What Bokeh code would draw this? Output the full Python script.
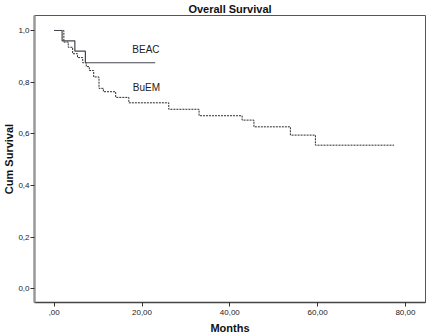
import math
from bokeh.plotting import figure
from bokeh.models import Range1d, FixedTicker, Label
from bokeh.embed import file_html
from bokeh.resources import INLINE

# ---- data ----
beac_months = [0.0, 1.8, 4.7, 7.1, 23.0]
beac_surv = [1.0, 0.96, 0.92, 0.875, 0.875]

buem_months = [0.0, 2.2, 3.2, 4.2, 5.3, 6.5, 7.3, 8.0, 9.0, 10.2, 11.2, 14.0, 17.0,
               26.1, 33.0, 42.8, 45.5, 53.8, 59.5, 77.4]
buem_surv = [1.0, 0.955, 0.935, 0.91, 0.895, 0.875, 0.86, 0.845, 0.82, 0.776, 0.763,
             0.741, 0.72, 0.695, 0.67, 0.653, 0.627, 0.595, 0.556, 0.556]

x_ticks = [0, 20, 40, 60, 80]
x_tick_labels = [",00", "20,00", "40,00", "60,00", "80,00"]
y_ticks = [0.0, 0.2, 0.4, 0.6, 0.8, 1.0]
y_tick_labels = ["0,0", "0,2", "0,4", "0,6", "0,8", "1,0"]

FONT = "Liberation Sans"

p = figure(width=432, height=336, output_backend="svg", toolbar_location=None,
           x_range=Range1d(-4.49, 84.58), y_range=Range1d(-0.053, 1.058),
           min_border_left=0, min_border_right=7, min_border_top=0, min_border_bottom=0,
           title="Overall Survival")
p.title.align = "center"
p.title.text_font = FONT
p.title.text_font_size = "11px"
p.title.text_font_style = "bold"
p.title.text_color = "#111111"
p.title.standoff = 1
p.title.offset = 0

p.background_fill_color = "white"
p.border_fill_color = "white"
p.outline_line_color = "#555555"
p.outline_line_width = 1
p.xgrid.visible = False
p.ygrid.visible = False

for ax, ticks, labels in ((p.xaxis[0], x_ticks, x_tick_labels), (p.yaxis[0], y_ticks, y_tick_labels)):
    ax.ticker = FixedTicker(ticks=ticks)
    ax.major_label_overrides = {t: l for t, l in zip(ticks, labels)}
    ax.major_tick_in = 0
    ax.major_tick_out = 4
    ax.minor_tick_in = 0
    ax.minor_tick_out = 0
    ax.major_tick_line_color = "#333333"
    ax.major_label_text_font = FONT
    ax.major_label_text_font_size = "8px"
    ax.major_label_text_color = "#222222"
    ax.axis_label_text_font = FONT
    ax.axis_label_text_font_size = "11px"
    ax.axis_label_text_font_style = "bold"
    ax.axis_label_text_color = "#111111"

p.yaxis[0].axis_label = "Cum Survival"
p.yaxis[0].axis_line_color = "#999999"
p.yaxis[0].axis_line_width = 2.5
p.yaxis[0].major_label_standoff = 1
p.yaxis[0].axis_label_standoff = 0
p.xaxis[0].axis_label = "Months"
p.xaxis[0].axis_line_color = "#444444"
p.xaxis[0].axis_line_width = 1.3
p.xaxis[0].major_label_standoff = 3
p.xaxis[0].axis_label_standoff = 4

p.step(buem_months, buem_surv, mode="after", line_color="#2a2a2a", line_width=1,
       line_dash="2 1")
p.step(beac_months, beac_surv, mode="after", line_color="#45454f", line_width=1.2)

p.add_layout(Label(x=17.8, y=0.925, text="BEAC", text_font=FONT, text_font_size="10px",
                   text_color="#222222", text_baseline="middle", text_align="left"))
p.add_layout(Label(x=17.9, y=0.779, text="BuEM", text_font=FONT, text_font_size="10px",
                   text_color="#222222", text_baseline="middle", text_align="left"))

open("out.html", "w").write(file_html(p, INLINE))
